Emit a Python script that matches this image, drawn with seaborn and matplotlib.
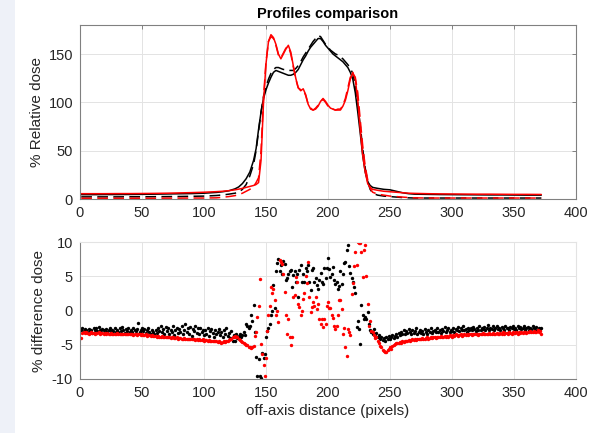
"""Profiles comparison: dose profiles (top) and their percent differences (bottom)."""

import matplotlib
matplotlib.use("Agg")
import matplotlib.pyplot as plt
from matplotlib.patches import Rectangle
import seaborn as sns

# ---- profile curves (top panel) ----
profile_x = [1, 10, 20, 30, 40, 50, 60, 70, 80, 90, 100, 110,
             115, 120, 125, 128, 131, 134, 137,
             140, 142, 144, 146, 148, 150, 152, 154, 156, 158, 160, 162, 164, 166, 168,
             170, 172, 174, 176, 178, 180, 182, 184, 186, 188, 190, 192, 194, 196, 198,
             200, 202, 204, 206, 208, 210, 212, 214, 216, 218, 220, 222, 224, 226, 228,
             230, 232, 234, 236,
             240, 245, 250, 255, 260, 265, 270,
             280, 290, 300, 310, 320, 330, 340, 350, 360, 372]

black_solid = [4.5, 4.5, 4.6, 4.6, 4.7, 4.8, 5.0, 5.2, 5.4, 5.6, 6.0, 6.8,
               7.5, 8.5, 10.5, 12.5, 16, 21, 28,
               40, 52, 72, 90, 104, 113, 120, 126, 131, 133, 132, 131, 130, 129, 128,
               128, 129, 131, 134, 139, 144, 148, 153, 157, 160, 163, 166, 166, 163, 159,
               156, 153, 150, 148, 146, 144, 142, 139, 136, 131, 124, 110, 90, 68, 45,
               28, 18, 14, 12,
               11, 10, 9.5, 8, 6.5, 5.5, 5,
               4.8, 4.6, 4.5, 4.4, 4.3, 4.2, 4.2, 4.1, 4.0, 4.0]

black_dashed = [2.2, 2.2, 2.2, 2.2, 2.3, 2.3, 2.4, 2.5, 2.6, 2.8, 3.0, 3.6,
                4.2, 5.0, 6.0, 7.0, 10, 15, 24,
                36, 50, 70, 90, 106, 116, 124, 130, 134, 136, 136, 135, 134, 134, 133,
                133, 133, 135, 138, 142, 147, 151, 155, 159, 163, 166, 169, 168, 164, 160,
                157, 154, 152, 150, 149, 147, 145, 142, 139, 135, 130, 118, 98, 76, 52,
                32, 18, 10, 6,
                4, 3, 2.5, 2, 1.5, 1.2, 1.0,
                1.0, 1.0, 1.0, 1.0, 1.0, 1.0, 1.0, 1.0, 1.0, 1.0]

red_solid = [5.5, 5.5, 5.5, 5.6, 5.6, 5.7, 5.8, 6.0, 6.3, 6.6, 7.0, 7.6,
             8.0, 8.6, 9.5, 10.2, 11, 12, 13,
             14, 15, 17, 40, 100, 140, 163, 170, 167, 160, 150, 145, 150, 155, 159,
             152, 138, 125, 115, 112, 114, 108, 98, 93, 92, 93, 96, 101, 104, 101,
             97, 94, 93, 92, 92, 92, 96, 102, 112, 124, 131, 124, 102, 72, 45,
             28, 16, 12, 10,
             9, 8, 7.5, 7, 6.5, 6, 5.8,
             5.5, 5.3, 5.2, 5.1, 5.0, 5.0, 4.9, 4.8, 4.8, 4.7]

red_dashed = [0.8, 0.8, 0.8, 0.8, 0.8, 0.8, 0.8, 0.9, 0.9, 1.0, 1.0, 1.2,
              1.8, 2.5, 3.5, 4.5, 6, 8, 10,
              13, 17, 22, 50, 105, 142, 163, 168, 166, 159, 149, 146, 151, 156, 158,
              150, 137, 124, 115, 113, 113, 107, 98, 94, 92, 94, 97, 101, 103, 100,
              96, 94, 93, 92, 93, 93, 97, 104, 115, 126, 130, 126, 110, 82, 55,
              34, 20, 11, 7,
              5, 4, 3, 2.5, 2, 1.5, 1.2,
              1.0, 1.0, 1.0, 1.0, 1.0, 1.0, 1.0, 1.0, 1.0, 1.0]

# ---- percent differences (bottom panel), one value per pixel 1..372 ----
diff_x = list(range(1, 373))

diff_black = [
    -2.8, -2.6, -3.0, -2.7, -2.9, -3.1, -2.7, -3.0, -2.8, -3.3,
    -2.6, -2.9, -2.5, -3.0, -2.4, -2.8, -3.1, -2.7, -2.9, -3.0,
    -2.7, -3.1, -2.9, -2.6, -3.2, -2.8, -3.0, -2.5, -3.1, -2.8,
    -3.2, -2.6, -3.0, -2.4, -2.9, -3.3, -2.7, -3.0, -2.5, -3.1,
    -2.8, -3.2, -2.6, -2.9, -3.0, -2.7, -1.8, -3.1, -2.8, -2.6,
    -3.0, -2.7, -3.3, -2.9, -2.6, -3.1, -3.4, -2.8, -3.2, -3.5,
    -2.9, -3.3, -2.5, -3.0, -2.3, -3.2, -2.7, -3.5, -2.4, -3.0,
    -2.6, -3.4, -2.8, -3.1, -2.2, -3.6, -2.9, -2.5, -3.3, -2.7,
    -3.2, -2.3, -3.5, -2.8, -2.0, -3.1, -2.6, -3.4, -2.4, -3.7,
    -2.7, -3.0, -2.3, -3.3, -2.6, -3.5, -2.5, -3.2, -2.8, -3.6,
    -2.9, -3.4, -2.6, -3.7, -3.0, -2.7, -3.3, -3.8, -2.8, -3.5,
    -3.1, -2.7, -3.6, -3.2, -3.9, -2.9, -3.4, -2.6, -3.7, -3.3,
    -4.0, -3.0, -4.4, -3.6, -4.5, -3.4, -4.0, -3.7, -3.5, -3.9,
    -3.6, -3.2, -3.6, -2.0, -2.2, -2.5, -2.2, -0.7, -1.5, 0.8,
    -3.2, -6.8, -9.5, -7.1, -9.5, -9.8, -6.2, -7.0, -6.3, -3.9,
    -3.0, -2.6, -2.0, -0.7, 0.0, 3.7, 0.3, 5.7, 6.9, 7.5,
    5.7, 6.7, 5.4, 7.2, 6.8, 4.5, 4.7, 5.4, 5.7, 5.9,
    3.4, 5.2, 5.7, 4.2, 5.3, 2.0, 5.9, 6.7, 4.2, 5.3,
    4.2, 6.2, 5.7, 6.7, 4.1, 3.0, 5.9, 6.2, 4.2, 4.7,
    3.7, 3.2, 4.4, 5.5, 4.2, 3.8, 6.2, 4.7, 6.2, 7.6,
    6.0, 4.9, 5.3, 6.4, 4.5, 3.8, 4.1, 3.2, 3.6, 5.8,
    3.8, 5.4, 6.9, 7.1, 8.9, 9.6, 6.5, 5.5, 4.8, 4.1,
    3.4, 2.5, -2.4, -1.5, -2.7, -4.9, 0.8, -0.7, -1.2, -0.9,
    -1.2, -0.2, -2.0, -2.9, -3.2, -3.4, -2.7, -3.7, -3.3, -3.9,
    -3.6, -4.1, -3.8, -4.3, -4.0, -4.4, -3.9, -4.2, -3.7, -4.1,
    -3.9, -3.6, -4.0, -3.7, -3.5, -3.8, -3.3, -3.6, -3.1, -3.4,
    -2.8, -3.5, -3.0, -3.3, -2.7, -3.2, -3.5, -2.9, -3.3, -3.0,
    -2.6, -3.4, -3.1, -2.8, -3.3, -3.0, -3.5, -2.7, -3.2, -3.4,
    -2.9, -3.1, -2.6, -3.3, -3.0, -2.8, -3.2, -2.5, -3.1, -2.9,
    -3.3, -2.7, -3.0, -2.4, -3.2, -2.9, -2.6, -3.1, -2.8, -3.0,
    -2.5, -3.2, -2.7, -2.9, -2.4, -3.0, -2.6, -2.8, -2.3, -2.9,
    -2.7, -3.1, -2.5, -2.8, -2.6, -2.9, -2.4, -2.7, -3.0, -2.5,
    -2.8, -2.2, -2.9, -2.6, -2.7, -2.4, -2.9, -2.6, -2.1, -2.8,
    -2.5, -2.7, -2.3, -2.9, -2.6, -2.2, -2.7, -2.5, -2.8, -2.4,
    -2.6, -2.9, -2.3, -2.6, -2.5, -2.8, -2.4, -2.6, -2.2, -2.7,
    -2.5, -2.9, -2.3, -2.6, -2.4, -2.7, -2.5, -2.2, -2.8, -2.6,
    -2.4, -2.9, -2.5, -2.7, -2.3, -2.6, -2.8, -2.4, -2.9, -2.5,
    -2.7, -2.6,
]

diff_red = [
    -4.0, -3.3, -3.2, -3.3, -3.2, -3.3, -3.4, -3.3, -3.2, -3.3,
    -3.3, -3.4, -3.3, -3.3, -3.2, -3.4, -3.3, -3.3, -3.4, -3.3,
    -3.4, -3.3, -3.4, -3.4, -3.3, -3.4, -3.5, -3.4, -3.4, -3.3,
    -3.4, -3.5, -3.4, -3.4, -3.5, -3.4, -3.5, -3.4, -3.5, -3.5,
    -3.4, -3.5, -3.6, -3.5, -3.5, -3.6, -3.5, -3.5, -3.6, -3.5,
    -3.6, -3.6, -3.5, -3.7, -3.6, -3.6, -3.7, -3.6, -3.7, -3.7,
    -3.7, -3.8, -3.7, -3.8, -3.8, -3.7, -3.9, -3.8, -3.8, -3.9,
    -3.9, -3.8, -4.0, -3.9, -3.9, -4.0, -4.0, -3.9, -4.1, -4.0,
    -4.0, -4.1, -4.1, -4.0, -4.2, -4.1, -4.1, -4.2, -4.1, -4.2,
    -4.2, -4.2, -4.3, -4.2, -4.3, -4.2, -4.3, -4.3, -4.2, -4.4,
    -4.3, -4.3, -4.4, -4.3, -4.4, -4.5, -4.4, -4.4, -4.5, -4.5,
    -4.6, -4.5, -4.6, -4.7, -4.6, -4.5, -4.6, -4.4, -4.5, -4.3,
    -4.2, -4.1, -3.9, -3.8, -3.7, -3.8, -3.9, -4.1, -4.3, -4.4,
    -4.6, -4.7, -4.9, -5.0, -5.1, -5.3, -5.4, -5.5, -5.4, -5.2,
    -3.7, -3.2, -1.0, 0.7, 4.6, -4.9, -6.4, -7.9, -9.6, -7.0,
    -3.0, -0.7, 0.7, 3.4, 2.5, 3.2, 1.5, -0.7, 0.0, -1.7,
    7.4, 7.1, 6.8, 5.4, 2.7, -0.7, -3.4, -1.2, -3.9, -5.1,
    -3.8, 2.0, 2.3, 4.9, 4.2, 1.0, 0.5, -0.7, 0.0, 1.7,
    2.5, 5.0, 4.0, 7.1, 2.0, -0.2, 0.5, 1.2, 0.6, 1.9,
    0.2, 1.0, -1.2, -2.0, -1.2, -2.4, -1.3, -2.0, 0.7, 1.2,
    0.4, 0.4, -0.7, -1.1, -2.2, -2.7, -2.2, -0.6, 1.6, 1.6,
    0.2, -3.4, -2.6, -5.3, -6.6, -2.7, -3.2, -3.6, 2.4, 4.0,
    6.5, 8.6, 6.6, 10.0, 9.9, 9.9, 8.6, 4.9, 8.9, 9.5,
    5.0, 1.0, -2.2, -1.5, -3.0, -3.2, -3.6, -4.0, -3.8, -4.4,
    -4.8, -5.2, -5.4, -5.7, -5.9, -6.0, -6.1, -5.8, -5.6, -5.3,
    -5.6, -5.2, -5.0, -4.9, -4.8, -4.8, -4.7, -4.6, -4.7, -4.5,
    -4.6, -4.4, -4.5, -4.4, -4.3, -4.4, -4.3, -4.2, -4.3, -4.2,
    -4.3, -4.1, -4.2, -4.1, -4.2, -4.0, -4.1, -4.2, -4.0, -3.9,
    -4.1, -4.0, -3.9, -4.0, -3.8, -3.9, -4.0, -3.8, -3.9, -3.8,
    -3.7, -3.9, -3.8, -3.7, -3.8, -3.7, -3.8, -3.6, -3.7, -3.8,
    -3.6, -3.7, -3.5, -3.6, -3.7, -3.6, -3.5, -3.7, -3.6, -3.5,
    -3.6, -3.4, -3.6, -3.5, -3.5, -3.6, -3.4, -3.5, -3.5, -3.4,
    -3.6, -3.5, -3.4, -3.5, -3.3, -3.5, -3.4, -3.4, -3.5, -3.3,
    -3.4, -3.5, -3.3, -3.4, -3.4, -3.3, -3.5, -3.4, -3.3, -3.4,
    -3.2, -3.4, -3.3, -3.3, -3.4, -3.2, -3.3, -3.4, -3.2, -3.3,
    -3.3, -3.2, -3.4, -3.2, -3.3, -3.2, -3.3, -3.1, -3.2, -3.3,
    -3.1, -3.2, -3.0, -3.2, -3.1, -3.0, -3.2, -3.1, -2.9, -3.1,
    -3.0, -3.4,
]

x_ticks = [0, 50, 100, 150, 200, 250, 300, 350, 400]
dose_ticks = [0, 50, 100, 150]
diff_ticks = [-10, -5, 0, 5, 10]

assert len(diff_black) == len(diff_x) == len(diff_red)
for arr in (black_solid, black_dashed, red_solid, red_dashed):
    assert len(arr) == len(profile_x)

sns.set_style("white")
plt.rcParams["font.family"] = ["Liberation Sans", "DejaVu Sans"]
plt.rcParams["axes.unicode_minus"] = False

AX_COLOR = "#262626"
SPINE = "#808080"
GRID = "#e3e3e3"

fig = plt.figure(figsize=(5.9, 4.33), dpi=100)
fig.patch.set_facecolor("white")
fig.patches.append(Rectangle((0, 0), 15 / 590, 1, transform=fig.transFigure,
                             facecolor="#eef1f8", edgecolor="none", zorder=-5))

ax1 = fig.add_axes([80 / 590, 1 - 199 / 433, 496 / 590, 174 / 433])
ax2 = fig.add_axes([80 / 590, 1 - 379 / 433, 496 / 590, 137 / 433])

# top: dose profiles
sns.lineplot(x=profile_x, y=black_solid, color="black", linewidth=1.1, ax=ax1)
sns.lineplot(x=profile_x, y=black_dashed, color="black", linewidth=1.1,
             linestyle=(0, (7, 3.5)), ax=ax1)
sns.lineplot(x=profile_x, y=red_solid, color="red", linewidth=1.1, ax=ax1)
sns.lineplot(x=profile_x, y=red_dashed, color="red", linewidth=1.1,
             linestyle=(0, (7, 3.5)), ax=ax1)

ax1.set_xlim(0, 400)
ax1.set_ylim(0, 180)
ax1.set_xticks(x_ticks)
ax1.set_yticks(dose_ticks)
ax1.set_ylabel("% Relative dose", fontsize=11, color=AX_COLOR, labelpad=3)
ax1.set_title("Profiles comparison", fontsize=10.5, fontweight="bold",
              color="black", pad=5)

# bottom: differences
sns.scatterplot(x=diff_x, y=diff_black, color="black", s=6, linewidth=0, ax=ax2)
sns.scatterplot(x=diff_x, y=diff_red, color="red", s=6, linewidth=0, ax=ax2)

ax2.set_xlim(0, 400)
ax2.set_ylim(-10, 10)
ax2.set_xticks(x_ticks)
ax2.set_yticks(diff_ticks)
ax2.set_ylabel("% difference dose", fontsize=11, color=AX_COLOR, labelpad=4)
ax2.set_xlabel("off-axis distance (pixels)", fontsize=11, color=AX_COLOR, labelpad=3)

for ax in (ax1, ax2):
    ax.grid(True, color=GRID, linewidth=0.7)
    ax.set_axisbelow(True)
    ax.tick_params(direction="in", length=3, width=0.7, colors=SPINE,
                   labelcolor=AX_COLOR, labelsize=10.5, pad=5)
    for s in ax.spines.values():
        s.set_visible(True)
        s.set_linewidth(0.8)
        s.set_color(SPINE)

ax1.tick_params(top=True, right=True)
ax2.spines["top"].set_color(GRID)
ax2.spines["right"].set_color(GRID)

fig.savefig("out.png", dpi=100)
